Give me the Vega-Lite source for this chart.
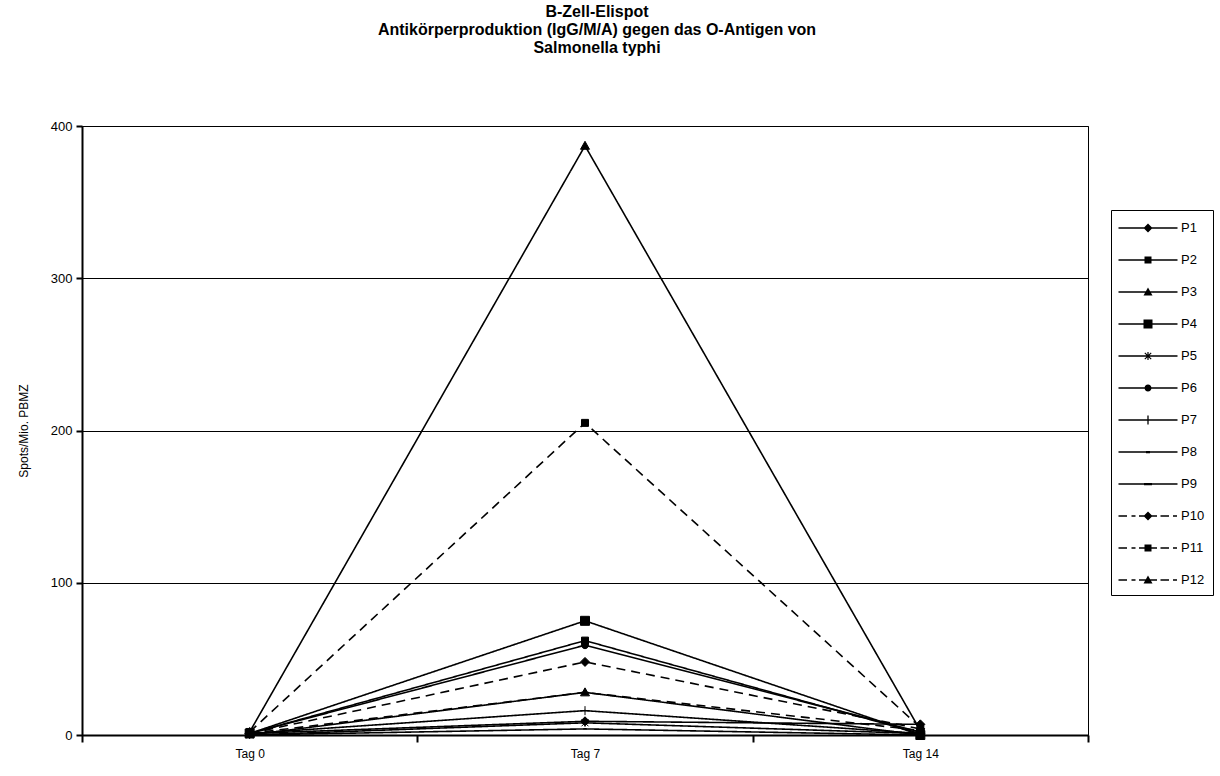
{
  "$schema": "https://vega.github.io/schema/vega-lite/v6.json",
  "width": 1006,
  "height": 609,
  "autosize": {"type": "none"},
  "padding": {"left": 82, "top": 126, "right": 132, "bottom": 41},
  "background": "white",
  "config": {
    "font": "Liberation Sans",
    "view": {"stroke": "black", "strokeWidth": 1},
    "axis": {"labelFont": "Liberation Sans", "labelColor": "black", "titleColor": "black", "domainColor": "black", "tickColor": "black"}
  },
  "title": {
    "text": ["B-Zell-Elispot", "Antikörperproduktion (IgG/M/A) gegen das O-Antigen von", "Salmonella typhi"],
    "font": "Liberation Sans",
    "fontSize": 16,
    "fontWeight": "bold",
    "lineHeight": 18,
    "color": "black",
    "anchor": "middle",
    "frame": "group",
    "dx": 12,
    "offset": 64
  },
  "data": {
    "values": [
      {"series": "P1", "tag": "Tag 0", "value": 1}, {"series": "P1", "tag": "Tag 7", "value": 9}, {"series": "P1", "tag": "Tag 14", "value": 7},
      {"series": "P2", "tag": "Tag 0", "value": 1}, {"series": "P2", "tag": "Tag 7", "value": 62}, {"series": "P2", "tag": "Tag 14", "value": 1},
      {"series": "P3", "tag": "Tag 0", "value": 2}, {"series": "P3", "tag": "Tag 7", "value": 387}, {"series": "P3", "tag": "Tag 14", "value": 3},
      {"series": "P4", "tag": "Tag 0", "value": 1}, {"series": "P4", "tag": "Tag 7", "value": 75}, {"series": "P4", "tag": "Tag 14", "value": 0},
      {"series": "P5", "tag": "Tag 0", "value": 0}, {"series": "P5", "tag": "Tag 7", "value": 8}, {"series": "P5", "tag": "Tag 14", "value": 1},
      {"series": "P6", "tag": "Tag 0", "value": 1}, {"series": "P6", "tag": "Tag 7", "value": 59}, {"series": "P6", "tag": "Tag 14", "value": 2},
      {"series": "P7", "tag": "Tag 0", "value": 1}, {"series": "P7", "tag": "Tag 7", "value": 16}, {"series": "P7", "tag": "Tag 14", "value": 1},
      {"series": "P8", "tag": "Tag 0", "value": 0}, {"series": "P8", "tag": "Tag 7", "value": 4}, {"series": "P8", "tag": "Tag 14", "value": 0},
      {"series": "P9", "tag": "Tag 0", "value": 0}, {"series": "P9", "tag": "Tag 7", "value": 28}, {"series": "P9", "tag": "Tag 14", "value": 0},
      {"series": "P10", "tag": "Tag 0", "value": 1}, {"series": "P10", "tag": "Tag 7", "value": 48}, {"series": "P10", "tag": "Tag 14", "value": 4},
      {"series": "P11", "tag": "Tag 0", "value": 2}, {"series": "P11", "tag": "Tag 7", "value": 205}, {"series": "P11", "tag": "Tag 14", "value": 5},
      {"series": "P12", "tag": "Tag 0", "value": 1}, {"series": "P12", "tag": "Tag 7", "value": 28}, {"series": "P12", "tag": "Tag 14", "value": 3}
    ]
  },
  "encoding": {
    "x": {
      "field": "tag", "type": "nominal", "sort": ["Tag 0", "Tag 7", "Tag 14"],
      "scale": {"paddingInner": 0, "paddingOuter": 0},
      "axis": {"title": null, "labelAngle": 0, "labelFontSize": 12, "tickBand": "extent", "tickSize": 7, "tickWidth": 2, "domainWidth": 2, "labelPadding": 6, "grid": false}
    },
    "y": {
      "field": "value", "type": "quantitative",
      "scale": {"domain": [0, 400], "nice": false},
      "axis": {"title": "Spots/Mio. PBMZ", "titleFontSize": 12, "titleFontWeight": "normal", "titleFont": "Liberation Sans", "titlePadding": 20, "labelFontSize": 13, "values": [0, 100, 200, 300, 400], "tickSize": 6, "tickWidth": 2, "domainWidth": 2, "labelPadding": 4, "grid": true, "gridColor": "black", "gridWidth": 1, "gridOpacity": 1}
    }
  },
  "layer": [
    {
      "mark": {"type": "line", "color": "black", "strokeWidth": 1.6},
      "encoding": {
        "detail": {"field": "series"},
        "strokeDash": {
          "field": "series", "type": "nominal",
          "scale": {
            "domain": ["P1", "P2", "P3", "P4", "P5", "P6", "P7", "P8", "P9", "P10", "P11", "P12"],
            "range": [[1, 0], [1, 0], [1, 0], [1, 0], [1, 0], [1, 0], [1, 0], [1, 0], [1, 0], [9, 6], [9, 6], [9, 6]]
          },
          "legend": null
        }
      }
    },
    {
      "mark": {"type": "point", "filled": true, "fill": "black", "stroke": "black", "strokeWidth": 1, "opacity": 1, "size": 400},
      "encoding": {
        "shape": {
          "field": "series", "type": "nominal",
          "scale": {
            "domain": ["P1", "P2", "P3", "P4", "P5", "P6", "P7", "P8", "P9", "P10", "P11", "P12"],
            "range": [
              "M0,-0.45L0.45,0L0,0.45L-0.45,0Z",
              "M-0.35,-0.35H0.35V0.35H-0.35Z",
              "M0,-0.45L0.45,0.35H-0.45Z",
              "M-0.45,-0.45H0.45V0.45H-0.45Z",
              "M-0.35,-0.35L0.35,0.35M-0.35,0.35L0.35,-0.35M0,-0.4V0.4",
              "M-0.35,0A0.35,0.35 0 1,0 0.35,0A0.35,0.35 0 1,0 -0.35,0Z",
              "M-0.45,0H0.45M0,-0.45V0.45",
              "M-0.2,0H0.2",
              "M-0.4,0H0.4",
              "M0,-0.45L0.45,0L0,0.45L-0.45,0Z",
              "M-0.35,-0.35H0.35V0.35H-0.35Z",
              "M0,-0.45L0.45,0.35H-0.45Z"
            ]
          },
          "legend": null
        }
      }
    },
    {
      "mark": {"type": "point", "filled": true, "fill": "black", "stroke": "black", "strokeWidth": 1, "opacity": 0, "size": 400},
      "encoding": {
        "shape": {
          "field": "series", "type": "nominal",
          "scale": {
            "domain": ["P1", "P2", "P3", "P4", "P5", "P6", "P7", "P8", "P9", "P10", "P11", "P12"],
            "range": [
              "M-2.95,-0.065H2.95V0.065H-2.95ZM0,-0.45L0.45,0L0,0.45L-0.45,0Z",
              "M-2.95,-0.065H2.95V0.065H-2.95ZM-0.35,-0.35H0.35V0.35H-0.35Z",
              "M-2.95,-0.065H2.95V0.065H-2.95ZM0,-0.45L0.45,0.35H-0.45Z",
              "M-2.95,-0.065H2.95V0.065H-2.95ZM-0.45,-0.45H0.45V0.45H-0.45Z",
              "M-2.95,-0.065H2.95V0.065H-2.95ZM-0.06,-0.4H0.06V0.4H-0.06ZM-0.36,-0.28L-0.28,-0.36L0.36,0.28L0.28,0.36ZM0.28,-0.36L0.36,-0.28L-0.28,0.36L-0.36,0.28Z",
              "M-2.95,-0.065H2.95V0.065H-2.95ZM-0.35,0A0.35,0.35 0 1,1 0.35,0A0.35,0.35 0 1,1 -0.35,0Z",
              "M-2.95,-0.065H2.95V0.065H-2.95ZM-0.065,-0.45H0.065V0.45H-0.065Z",
              "M-2.95,-0.065H2.95V0.065H-2.95ZM-0.2,-0.09H0.2V0.12H-0.2Z",
              "M-2.95,-0.065H2.95V0.065H-2.95ZM-0.4,-0.1H0.4V0.12H-0.4Z",
              "M-2.95,-0.065H-2.1V0.065H-2.95ZM-1.65,-0.065H-1.25V0.065H-1.65ZM-0.9,-0.065H0.9V0.065H-0.9ZM1.25,-0.065H2.1V0.065H1.25ZM2.5,-0.065H2.9V0.065H2.5ZM0,-0.45L0.45,0L0,0.45L-0.45,0Z",
              "M-2.95,-0.065H-2.1V0.065H-2.95ZM-1.65,-0.065H-1.25V0.065H-1.65ZM-0.9,-0.065H0.9V0.065H-0.9ZM1.25,-0.065H2.1V0.065H1.25ZM2.5,-0.065H2.9V0.065H2.5ZM-0.35,-0.35H0.35V0.35H-0.35Z",
              "M-2.95,-0.065H-2.1V0.065H-2.95ZM-1.65,-0.065H-1.25V0.065H-1.65ZM-0.9,-0.065H0.9V0.065H-0.9ZM1.25,-0.065H2.1V0.065H1.25ZM2.5,-0.065H2.9V0.065H2.5ZM0,-0.45L0.45,0.35H-0.45Z"
            ]
          },
          "legend": {
            "title": null,
            "orient": "none",
            "legendX": 1029,
            "legendY": 84,
            "strokeColor": "black",
            "fillColor": "white",
            "padding": 8,
            "symbolSize": 400,
            "symbolOpacity": 1,
            "symbolFillColor": "black",
            "symbolStrokeColor": "black",
            "symbolStrokeWidth": 0,
            "symbolOffset": 19,
            "labelOffset": 23,
            "labelFont": "Liberation Sans",
            "labelFontSize": 13,
            "labelColor": "black",
            "rowPadding": 15,
            "encode": {
              "symbols": {
                "update": {
                  "fill": {"value": "black"},
                  "opacity": {"value": 1}
                }
              }
            }
          }
        }
      }
    }
  ],
  "resolve": {"scale": {"shape": "independent"}}
}
